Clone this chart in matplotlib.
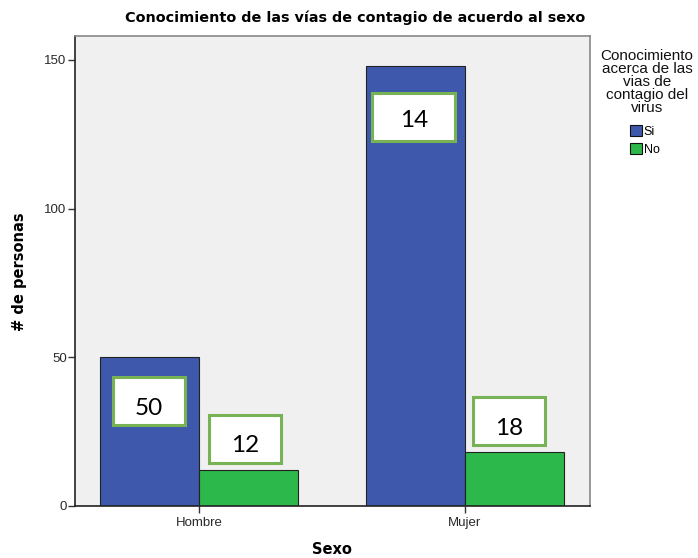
import matplotlib
matplotlib.use("Agg")
import matplotlib.pyplot as plt
from matplotlib.patches import Rectangle, Patch
import numpy as np

categories = ["Hombre", "Mujer"]
series_names = ["Si", "No"]
si_values = [50, 148]
no_values = [12, 18]
box_texts_si = ["50", "14"]
box_texts_no = ["12", "18"]
yticks = [0, 50, 100, 150]

blue = "#3E58AC"
green = "#2DB84B"
box_edge = "#77B255"

fig = plt.figure(figsize=(6.98, 5.58), dpi=100)
ax = fig.add_axes([75/698, 1-506/558, (590-75)/698, (506-36)/558])
ax.set_facecolor("#F0F0F0")

x = np.arange(len(categories))
w = 0.372
ax.bar(x - w/2, si_values, width=w, color=blue, edgecolor="#222222", linewidth=0.8, zorder=2)
ax.bar(x + w/2, no_values, width=w, color=green, edgecolor="#222222", linewidth=0.8, zorder=2)

ax.set_xlim(-0.466, 1.47)
ax.set_ylim(0, 158)
ax.set_xticks(x)
ax.set_xticklabels(categories, fontsize=9.5, family="Liberation Sans", color="#2a2a2a")
ax.set_yticks(yticks)
ax.set_yticklabels([str(v) for v in yticks], fontsize=9.5, family="Liberation Sans", color="#2a2a2a")
ax.tick_params(axis="both", direction="out", length=5, width=1, color="#333333")
ax.tick_params(axis="y", pad=1)
ax.tick_params(axis="x", pad=3)

for s in ["left", "bottom"]:
    ax.spines[s].set_color("#222222")
    ax.spines[s].set_linewidth(1.2)
for s in ["top", "right"]:
    ax.spines[s].set_color("#888888")
    ax.spines[s].set_linewidth(1.2)

# annotation boxes (text boxes pasted on the chart)
px_x = 1/266
px_y = 1/2.98
bh = 48 * px_y

def add_box(cx, cy, ty, txt, bwid, clip_bottom=None):
    r = Rectangle((cx - bwid/2, cy - bh/2), bwid, bh, facecolor="white",
                  edgecolor=box_edge, linewidth=2.2, zorder=3)
    ax.add_patch(r)
    t = ax.text(cx, ty, txt, ha="center", va="center", fontsize=17.5,
                family="Lato", color="black", zorder=4)
    if clip_bottom is not None:
        cr = Rectangle((cx - bwid/2, clip_bottom), bwid, cy + bh/2 - clip_bottom,
                       transform=ax.transData, facecolor="none", edgecolor="none")
        t.set_clip_path(cr)

# Si boxes
add_box(x[0] - w/2 - 0.002, 35.2, 32.8, box_texts_si[0], 72*px_x, clip_bottom=31.0)
add_box(x[1] - w/2 - 0.006, 130.9, 129.5, box_texts_si[1], 83*px_x)
# No boxes
add_box(x[0] + w/2 - 0.013, 22.5, 20.4, box_texts_no[0], 72*px_x)
add_box(x[1] + w/2 - 0.021, 28.7, 26.2, box_texts_no[1], 72*px_x, clip_bottom=24.0)

fig.text(355/698, 1-18/558, "Conocimiento de las vías de contagio de acuerdo al sexo",
         ha="center", va="center", fontsize=10.4, fontweight="bold", family="DejaVu Sans")
fig.text(332/698, 1-549/558, "Sexo", ha="center", va="center", fontsize=10.5,
         fontweight="bold", family="DejaVu Sans")
fig.text(20/698, 1-272/558, "# de personas", ha="center", va="center", rotation=90,
         fontsize=10.5, fontweight="bold", family="DejaVu Sans")

# legend
fig.text(647/698, 1-82/558, "Conocimiento\nacerca de las\nvias de\ncontagio del\nvirus",
         ha="center", va="center", fontsize=11, family="Liberation Sans",
         linespacing=0.9, color="#111111")
handles = [Patch(facecolor=blue, edgecolor="#111111", linewidth=0.8),
           Patch(facecolor=green, edgecolor="#111111", linewidth=0.8)]
leg = fig.legend(handles, series_names, loc="upper left",
                 bbox_to_anchor=(630/698, 1-125/558), frameon=False,
                 handlelength=0.95, handleheight=0.95, handletextpad=0.15,
                 labelspacing=0.45, borderpad=0, borderaxespad=0,
                 prop={"family": "Liberation Sans", "size": 9})

fig.savefig("out.png", dpi=100)
